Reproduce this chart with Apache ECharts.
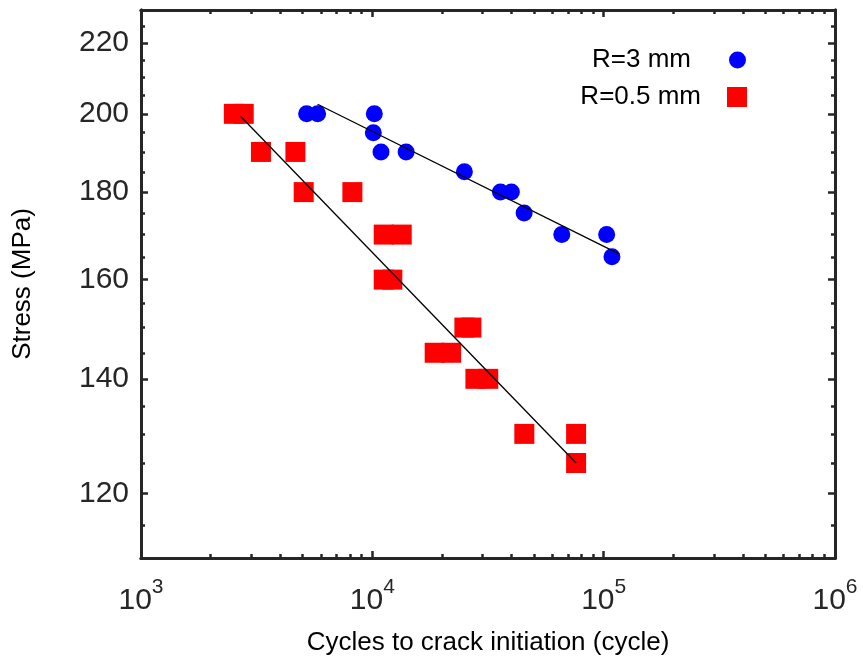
<!DOCTYPE html>
<html>
<head>
<meta charset="utf-8">
<script src="https://cdn.jsdelivr.net/npm/echarts@6/dist/echarts.min.js"></script>
<style>
html,body{margin:0;padding:0;background:#fff;}
#chart{width:863px;height:662px;}
</style>
</head>
<body>
<div id="chart"></div>
<script>
// R = 3 mm specimens
var r3Cycles = [5200, 5800, 10200, 10100, 10900, 14000, 25000, 35800, 39900, 45300, 65900, 103000, 108600];
var r3Stress = [200, 200, 200, 195, 190, 190, 185, 180, 180, 175, 170, 170, 165];
// R = 0.5 mm specimens
var r05Cycles = [2520, 2780, 3300, 4650, 5050, 8200, 11200, 13400, 11200, 12200, 25000, 26800, 18600, 21900, 27900, 31700, 45400, 76000, 76000];
var r05Stress = [200, 200, 190, 190, 180, 180, 170, 170, 160, 160, 150, 150, 145, 145, 140, 140, 130, 130, 125];
// fitted lines (end points)
var fit3Cycles = [5800, 117000];
var fit3Stress = [202.6, 165.6];
var fit05Cycles = [2700, 76000];
var fit05Stress = [199.3, 125];
// ticks
var xMajorTicks = [1e3, 1e4, 1e5, 1e6];
var xMinorTicks = [2e3,3e3,4e3,5e3,6e3,7e3,8e3,9e3,2e4,3e4,4e4,5e4,6e4,7e4,8e4,9e4,2e5,3e5,4e5,5e5,6e5,7e5,8e5,9e5];
var yMajorTicks = [120, 140, 160, 180, 200, 220];
var yMinorTicks = [115, 125, 130, 135, 145, 150, 155, 165, 170, 175, 185, 190, 195, 205, 210, 215, 225];
var seriesNames = ['R=3 mm', 'R=0.5 mm'];

function pairs(xs, ys){ return xs.map(function(x,i){ return [x, ys[i]]; }); }

var FONT = 'Liberation Sans, Arial, Helvetica, sans-serif';
var AX = '#262626';

function xAxisDef(pos, ticks, len, withLabels){
  return {
    type: 'log', position: pos, min: 1000, max: 1e6, logBase: 10,
    axisLine: {show: true, lineStyle: {color: AX, width: 3}},
    axisTick: {show: true, inside: true, length: len, customValues: ticks, lineStyle: {color: AX, width: 2.5}},
    axisLabel: withLabels ? {
      show: true, customValues: xMajorTicks, margin: 19, color: AX,
      formatter: function(v){ return '{b|10}{s|' + Math.round(Math.log10(v)) + '}'; },
      rich: {
        b: {fontSize: 30, fontFamily: FONT, color: AX},
        s: {fontSize: 21, fontFamily: FONT, color: AX, verticalAlign: 'bottom', padding: [0,0,26,0]}
      }
    } : {show: false},
    splitLine: {show: false}, minorTick: {show: false},
    name: withLabels ? 'Cycles to crack initiation (cycle)' : '',
    nameLocation: 'middle', nameGap: 72,
    nameTextStyle: {fontSize: 26, fontFamily: FONT, color: '#000'}
  };
}
function yAxisDef(pos, ticks, len, withLabels){
  return {
    type: 'log', position: pos, min: 110, max: 230, logBase: 10,
    axisLine: {show: true, lineStyle: {color: AX, width: 3}},
    axisTick: {show: true, inside: true, length: len, customValues: ticks, lineStyle: {color: AX, width: 2.5}},
    axisLabel: withLabels ? {
      show: true, customValues: yMajorTicks, margin: 12, color: AX,
      fontSize: 30, fontFamily: FONT
    } : {show: false},
    splitLine: {show: false}, minorTick: {show: false},
    name: withLabels ? 'Stress (MPa)' : '',
    nameLocation: 'middle', nameGap: 105, nameRotate: 90,
    nameTextStyle: {fontSize: 26, fontFamily: FONT, color: '#000'}
  };
}

var chart = echarts.init(document.getElementById('chart'), null, {renderer: 'canvas'});
chart.setOption({
  animation: false,
  backgroundColor: '#fff',
  grid: {left: 141, right: 28, top: 10, bottom: 104, containLabel: false},
  xAxis: [
    xAxisDef('bottom', xMajorTicks, 7, true),
    xAxisDef('bottom', xMinorTicks, 4, false),
    xAxisDef('top', xMajorTicks, 7, false),
    xAxisDef('top', xMinorTicks, 4, false)
  ],
  yAxis: [
    yAxisDef('left', yMajorTicks, 7, true),
    yAxisDef('left', yMinorTicks, 4, false),
    yAxisDef('right', yMajorTicks, 7, false),
    yAxisDef('right', yMinorTicks, 4, false)
  ],
  legend: [
    {data: [{name: seriesNames[0], icon: 'circle'}], orient: 'vertical', align: 'right', right: 117, top: 46, padding: 0,
     itemWidth: 17, itemHeight: 17,
     textStyle: {fontSize: 26, fontFamily: FONT, color: '#000', lineHeight: 26, padding: [2, 33, 0, 0]}},
    {data: [{name: seriesNames[1], icon: 'rect'}], orient: 'vertical', align: 'right', right: 116, top: 80, padding: 0,
     itemWidth: 20, itemHeight: 20,
     textStyle: {fontSize: 26, fontFamily: FONT, color: '#000', lineHeight: 26, padding: [8, 21, 0, 0]}}
  ],
  series: [
    {name: seriesNames[0], type: 'scatter', symbol: 'circle', symbolSize: 17,
     itemStyle: {color: '#0000ff', opacity: 1}, data: pairs(r3Cycles, r3Stress), z: 2},
    {name: seriesNames[1], type: 'scatter', symbol: 'rect', symbolSize: 20,
     itemStyle: {color: '#ff0000', opacity: 1}, data: pairs(r05Cycles, r05Stress), z: 2},
    {name: 'fit3', type: 'line', showSymbol: false, symbol: 'none', data: pairs(fit3Cycles, fit3Stress),
     lineStyle: {color: '#000', width: 1.3}, z: 3, silent: true},
    {name: 'fit05', type: 'line', showSymbol: false, symbol: 'none', data: pairs(fit05Cycles, fit05Stress),
     lineStyle: {color: '#000', width: 1.3}, z: 3, silent: true}
  ]
});
</script>
</body>
</html>
